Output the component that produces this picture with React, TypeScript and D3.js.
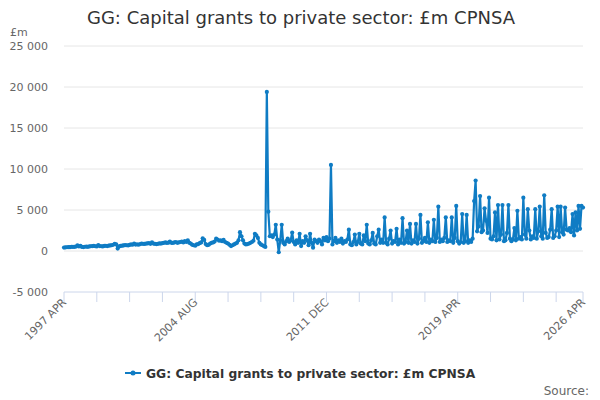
import React from 'react';
import { scaleLinear, line } from 'd3';

const monthNames = ['JAN', 'FEB', 'MAR', 'APR', 'MAY', 'JUN', 'JUL', 'AUG', 'SEP', 'OCT', 'NOV', 'DEC'];
const startYear = 1997;
const startMonth = 3; // APR

// £m, monthly from 1997 APR (one row per financial year, Apr..Mar)
const grants = [
    420, 450, 460, 480, 470, 520, 500, 510, 540, 680, 560, 620,
    500, 480, 520, 540, 510, 560, 580, 600, 620, 580, 560, 720,
    600, 580, 560, 620, 640, 600, 650, 680, 700, 760, 880, 820,
    300, 560, 620, 650, 680, 720, 700, 680, 740, 800, 760, 900,
    780, 820, 760, 850, 900, 870, 860, 900, 920, 960, 880, 1050,
    900, 870, 840, 880, 920, 900, 950, 1000, 1050, 980, 1020, 1150,
    1000, 980, 1050, 1100, 1000, 1050, 1100, 1150, 1050, 1200, 1100, 1300,
    1000, 900, 750, 700, 650, 800, 850, 950, 1050, 1550, 1350, 850,
    700, 750, 900, 1000, 1050, 1150, 1500, 1400, 1250, 1300, 1200, 1350,
    1100, 1000, 900, 750, 600, 700, 800, 900, 1000, 1300, 2300, 1800,
    1300, 900, 800, 850, 900, 1000, 1100, 1250, 2100, 1900, 1600, 1000,
    800, 700, 600, 500, 19400, 4800, 1800, 1900, 1700, 2000, 3200, 1400,
    -150, 1300, 3200, 1000, 800, 1200, 1500, 1100, 1300, 2250, 1100, 800,
    1300, 1000, 2100, 600, 1200, 1000, 1800, 1300, 700, 2100, 1000, 400,
    1400, 1200, 1000, 1400, 1200, 800, 1600, 1300, 1700, 1200, 1500, 10500,
    800, 1200, 1600, 1000, 1300, 1100, 1500, 900, 1200, 1100, 1400, 2600,
    800, 700, 1100, 2000, 800, 1100, 2100, 900, 800, 1900, 1200, 3200,
    900, 800, 1300, 2200, 900, 800, 1800, 2600, 1000, 1400, 1000, 4100,
    1000, 800, 1500, 2500, 900, 1200, 1100, 2700, 800, 1400, 1000, 4000,
    900, 1100, 2500, 1000, 3300, 900, 1300, 1100, 3300, 900, 1500, 4400,
    1000, 1200, 1600, 1100, 3500, 1000, 1400, 1200, 3800, 1100, 1600, 5400,
    1100, 1400, 1200, 1600, 4100, 1100, 1300, 1200, 4100, 1000, 1600, 5500,
    1200, 900, 1100, 4500, 1000, 1200, 4400, 1000, 1300, 1100, 1500, 6100,
    8600, 2400, 3000, 6700, 2300, 2500, 5200, 3700, 2200, 6500, 1500, 1400,
    1800, 4700, 1300, 5600, 1400, 2000, 5600, 1200, 1300, 2200, 5600, 1500,
    1200, 1400, 2800, 1300, 4900, 1500, 1700, 1400, 6500, 2000, 1500, 5100,
    2500, 1400, 1800, 1600, 5100, 1500, 2400, 5400, 1800, 1500, 6800, 2200,
    1600, 1700, 2600, 5100, 1600, 1800, 2500, 5400, 1700, 5400, 2300, 2000,
    5300, 2600, 2500, 2800, 2300, 4500, 1900, 4700, 2500, 5500, 2700, 5500,
    5300
];

const yTicks = [-5000, 0, 5000, 10000, 15000, 20000, 25000];
const tickStep = 22;
const labelStep = 88;

const title = 'GG: Capital grants to private sector: £m CPNSA';
const seriesName = 'GG: Capital grants to private sector: £m CPNSA';

const blue = '#0f7cc4';
const font = '"DejaVu Sans", Verdana, sans-serif';

function categoryLabel(i: number) {
    let m = startMonth + i;
    return `${startYear + Math.floor(m / 12)} ${monthNames[m % 12]}`;
}

function fmt(v: number) {
    return v.toLocaleString('en-GB').replace(/,/g, ' ');
}

const App = () => {
    let margin = { top: 46, right: 17, bottom: 108, left: 64 };
    let width = 600, height = 400;
    let last = grants.length - 1;

    let x = scaleLinear().domain([0, last]).range([margin.left, width - margin.right]);
    let y = scaleLinear().domain([-5000, 25000]).range([height - margin.bottom, margin.top]);

    let linefunc = line<number>().x((d, i) => x(i)).y(d => y(d));

    let ticks: number[] = [];
    for (let i = 0; i <= last; i += tickStep) ticks.push(i);
    if (ticks[ticks.length - 1] !== last) ticks.push(last);

    let labels = ticks.filter(i => i % labelStep === 0 || i === last);
    let axisY = y(-5000);

    return (
        <div style={{ position: 'absolute', left: 0, top: 0 }}>
            <svg width={width} height={height} style={{ fontFamily: font, display: 'block' }}>
                <rect width={width} height={height} fill="white" />
                <text x={301} y={24} textAnchor="middle" fontSize={18} fill="#333333">{title}</text>
                <text x={10} y={36} fontSize={11} fill="#666666">£m</text>

                {yTicks.map(t => (
                    <g key={t}>
                        {t !== -5000 && <line x1={margin.left} x2={width - margin.right} y1={y(t)} y2={y(t)} stroke="#e6e6e6" />}
                        <text x={48} y={y(t) + 4} textAnchor="end" fontSize={11} fill="#666666">{fmt(t)}</text>
                    </g>
                ))}

                <line x1={margin.left} x2={width - margin.right} y1={axisY} y2={axisY} stroke="#ccd6eb" />
                {ticks.map(i => (
                    <line key={i} x1={x(i)} x2={x(i)} y1={axisY} y2={axisY + 10} stroke="#ccd6eb" />
                ))}
                {labels.map(i => (
                    <text key={i} transform={`translate(${x(i) + 3},${axisY + 11}) rotate(-45)`} textAnchor="end" fontSize={11} fill="#666666">
                        {categoryLabel(i)}
                    </text>
                ))}

                <path d={linefunc(grants) || ''} fill="none" stroke={blue} strokeWidth={2.2} strokeLinejoin="round" />
                <g>
                    {grants.map((d, i) => (
                        <circle key={i} cx={x(i)} cy={y(d)} r={2.1} fill={blue} />
                    ))}
                </g>

                <g transform="translate(125,373)">
                    <line x1={0} x2={16} y1={0} y2={0} stroke={blue} strokeWidth={2} />
                    <circle cx={8} cy={0} r={2.5} fill={blue} />
                    <text x={21} y={4.5} fontSize={12.3} fontWeight="bold" fill="#333333">{seriesName}</text>
                </g>
                <text x={589} y={395} textAnchor="end" fontSize={12} fill="#666666">Source:</text>
            </svg>
        </div>
    );
};

export default App;
